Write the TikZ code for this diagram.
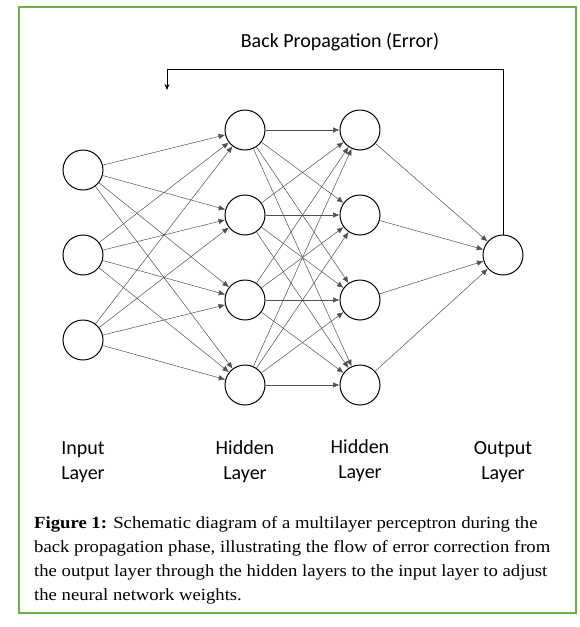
\documentclass[tikz,border=0pt]{standalone}
\usepackage{fontspec}
\setmainfont{Liberation Serif}
\newfontfamily\labelfont{Carlito}
\newfontfamily\capfont[FakeStretch=1.10]{Liberation Serif}
\usetikzlibrary{arrows.meta,positioning}
\definecolor{frameg}{HTML}{70AD47}
\definecolor{wire}{HTML}{505050}
\tikzset{
  % plain white neuron with a black outline
  neuron/.style  = {circle, draw=black, line width=1pt, minimum size=40pt, inner sep=0pt, fill=white},
  wt/.style      = {-{Latex[length=6.5pt,width=5.5pt]}, line width=0.5pt, wire},
  backarr/.style = {-{Stealth[length=6pt,width=5pt]}, line width=0.9pt, black},
  lyr/.style     = {font=\labelfont\fontsize{20}{25}\selectfont, align=center},
  captext/.style = {font=\capfont\fontsize{17}{24}\selectfont, align=left, anchor=north west, inner sep=0pt},
}

\begin{document}
\begin{tikzpicture}[x=1pt,y=-1pt]
\useasboundingbox (0,0) rectangle (580,627);
\draw[frameg, line width=1.5pt] (19,7) rectangle (576,613);

% ---- neurons --------------------------------------------------------
\foreach \i/\y in {1/170,2/255,3/340}
  \node[neuron] (in\i) at (83,\y) {};
\foreach \i/\y in {1/130,2/215,3/300,4/385} {
  \node[neuron] (hA\i) at (245,\y) {};
  \node[neuron] (hB\i) at (360,\y) {};
}
\node[neuron] (out) at (503,255) {};

% ---- weights --------------------------------------------------------
\foreach \i in {1,2,3}
  \foreach \j in {1,...,4}
    \draw[wt] (in\i) -- (hA\j);
\foreach \i in {1,...,4}
  \foreach \j in {1,...,4}
    \draw[wt] (hA\i) -- (hB\j);
\foreach \i in {1,...,4}
  \draw[wt] (hB\i) -- (out);

% ---- back propagation -----------------------------------------------
\node[lyr] (bptitle) at (340,42) {Back Propagation (Error)};
\coordinate (bpturn) at (167,69);
\coordinate (bpend) at (167,90);
\draw[backarr] (out.north) |- (bpturn) -- (bpend);

% ---- layer names ----------------------------------------------------
\node[lyr] (lin)  at (83,462)  {Input\\Layer};
\node[lyr] (lhA)  at (245,462) {Hidden\\Layer};
\node[lyr] (lhB)  at (360,461) {Hidden\\Layer};
\node[lyr] (lout) at (503,462) {Output\\Layer};

% ---- caption --------------------------------------------------------
\node[captext] (caption) at (34,516)
  {\textbf{Figure 1:} Schematic diagram of a multilayer perceptron during the\\
   back propagation phase, illustrating the flow of error correction from\\
   the output layer through the hidden layers to the input layer to adjust\\
   the neural network weights.};
\end{tikzpicture}
\end{document}
